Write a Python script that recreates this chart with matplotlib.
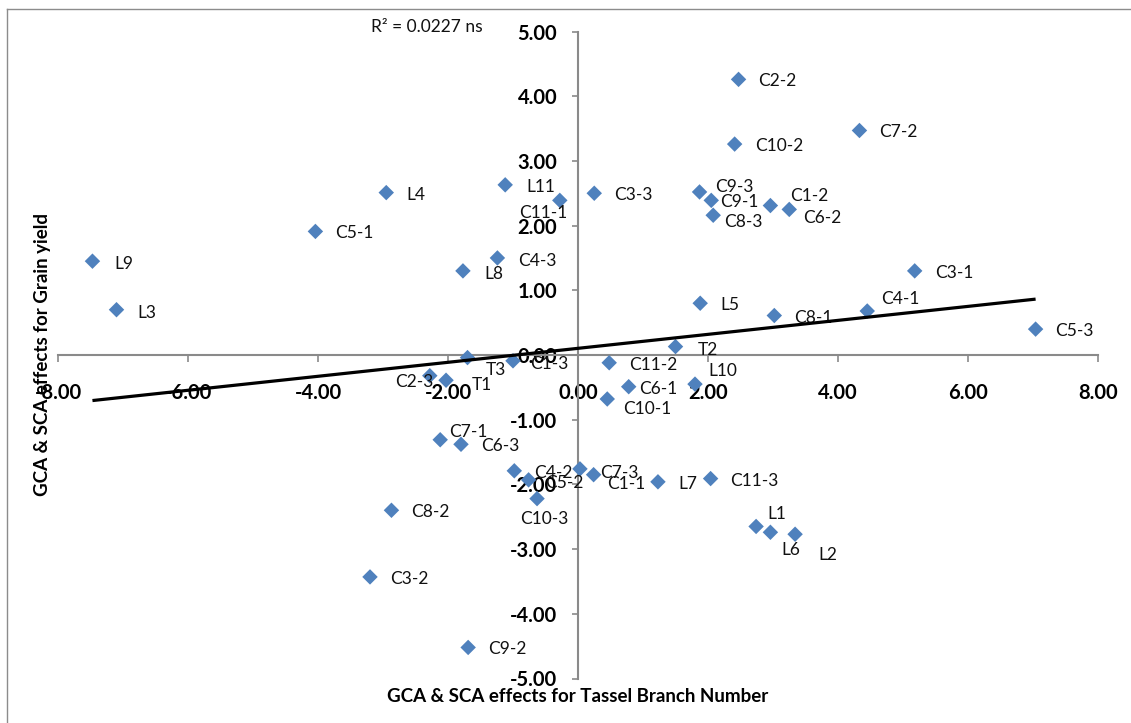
import numpy as np
import matplotlib
matplotlib.use("Agg")
import matplotlib.pyplot as plt
from matplotlib.lines import Line2D

plt.rcParams['font.family'] = ['Lato', 'DejaVu Sans']

# GCA (parents L, testers T) and SCA (crosses C) effects
genotypes = [
    "L1", "L2", "L3", "L4", "L5", "L6", "L7", "L8", "L9", "L10", "L11",
    "T1", "T2", "T3",
    "C1-1", "C1-2", "C1-3", "C2-2", "C2-3", "C3-1", "C3-2", "C3-3",
    "C4-1", "C4-2", "C4-3", "C5-1", "C5-2", "C5-3", "C6-1", "C6-2", "C6-3",
    "C7-1", "C7-2", "C7-3", "C8-1", "C8-2", "C8-3", "C9-1", "C9-2", "C9-3",
    "C10-1", "C10-2", "C10-3", "C11-1", "C11-2", "C11-3",
]
tassel_branch = [
    2.74, 3.34, -7.10, -2.95, 1.88, 2.96, 1.23, -1.77, -7.47, 1.80, -1.12,
    -2.03, 1.50, -1.70,
    0.24, 2.96, -1.00, 2.47, -2.28, 5.18, -3.20, 0.25,
    4.45, -0.98, -1.24, -4.04, -0.76, 7.04, 0.78, 3.25, -1.80,
    -2.12, 4.33, 0.03, 3.02, -2.87, 2.08, 2.05, -1.69, 1.87,
    0.45, 2.41, -0.63, -0.28, 0.48, 2.04,
]
grain_yield = [
    -2.65, -2.77, 0.70, 2.51, 0.80, -2.74, -1.96, 1.30, 1.45, -0.45, 2.63,
    -0.39, 0.13, -0.04,
    -1.85, 2.31, -0.09, 4.26, -0.32, 1.30, -3.43, 2.50,
    0.68, -1.79, 1.50, 1.91, -1.93, 0.40, -0.49, 2.25, -1.38,
    -1.31, 3.47, -1.76, 0.61, -2.40, 2.16, 2.39, -4.52, 2.52,
    -0.68, 3.26, -2.22, 2.39, -0.12, -1.91,
]
x_ticks = [-8, -6, -4, -2, 0, 2, 4, 6, 8]
y_ticks = [-5, -4, -3, -2, -1, 0, 1, 2, 3, 4, 5]

# label placement, pixel offsets (right, down) from each marker
default_offset = (20, 2)
label_offsets = {
    "L1": (11, -12), "L2": (23, 21), "L6": (11, 18), "L10": (13, -13),
    "L9": (22, 3), "L3": (21, 3), "L11": (21, 2), "L8": (21, 3),
    "T1": (26, 5), "T2": (22, 3), "T3": (18, 12),
    "C1-1": (14, 9), "C1-2": (20, -10), "C1-3": (17, 3), "C2-3": (-35, 6),
    "C4-1": (14, -12), "C4-3": (21, 3), "C5-2": (17, 3),
    "C6-1": (10, 2), "C6-2": (14, 9), "C7-1": (9, -8), "C7-3": (20, 4),
    "C8-3": (11, 7), "C9-1": (9, 2), "C9-3": (16, -5),
    "C10-1": (16, 10), "C10-3": (-17, 20), "C11-1": (-41, 13),
}

W, H, DPI = 1131, 723, 100
fig = plt.figure(figsize=(W / DPI, H / DPI), dpi=DPI)
fig.patch.set_facecolor("white")

ax_left, ax_right = 58, 1098
ax_top, ax_bottom = 31.5, 678.5
ax = fig.add_axes([ax_left / W, 1 - ax_bottom / H,
                   (ax_right - ax_left) / W, (ax_bottom - ax_top) / H])
ax.set_xlim(-8, 8)
ax.set_ylim(-5, 5)
ax.patch.set_alpha(0)

axis_grey = "#8a8a8a"
for side in ("top", "right"):
    ax.spines[side].set_visible(False)
for side in ("left", "bottom"):
    ax.spines[side].set_position(("data", 0))
    ax.spines[side].set_color(axis_grey)
    ax.spines[side].set_linewidth(1.5)

ax.set_xticks(x_ticks)
ax.set_yticks(y_ticks)
ax.set_xticklabels([f"{v:.2f}" for v in x_ticks])
ax.set_yticklabels([f"{v:.2f}" for v in y_ticks])
ax.tick_params(axis="x", direction="out", length=5, width=1.2, color=axis_grey,
               pad=15, labelsize=14.5)
ax.tick_params(axis="y", direction="out", length=4.5, width=1.2, color=axis_grey,
               pad=10.5, labelsize=14.5)
for lab in ax.get_xticklabels() + ax.get_yticklabels():
    lab.set_fontweight("bold")

xs = np.array(tassel_branch)
ys = np.array(grain_yield)
ax.scatter(xs, ys, marker="D", s=62, color="#4F81BD", edgecolors="none",
           zorder=3, clip_on=False)

for name, xv, yv in zip(genotypes, xs, ys):
    dx, dy = label_offsets.get(name, default_offset)
    ax.annotate(name, (xv, yv), xytext=(dx, -dy), textcoords="offset pixels",
                ha="left", va="center", fontsize=12.5, color="#111111",
                zorder=4, annotation_clip=False)

# linear trend line across the observed range
slope, intercept = np.polyfit(xs, ys, 1)
x_line = np.array([xs.min(), xs.max()])
ax.plot(x_line, slope * x_line + intercept, color="black", lw=2.3, zorder=5,
        solid_capstyle="butt")

fig.text(371 / W, 1 - 27 / H, "R² = 0.0227 ns", fontsize=12.5,
         ha="left", va="center", color="#111111")
fig.text(578 / W, 1 - 697 / H, "GCA & SCA effects for Tassel Branch Number",
         fontsize=13.5, fontweight="bold", ha="center", va="center")
fig.text(43 / W, 1 - 355 / H, "GCA & SCA effects for Grain yield",
         fontsize=13.5, fontweight="bold", ha="center", va="center",
         rotation=90)

# chart frame (left and top edges)
fig.add_artist(Line2D([7 / W, 7 / W], [0, 1 - 9 / H], transform=fig.transFigure,
                      color="#8c8c8c", lw=1.0))
fig.add_artist(Line2D([7 / W, 1], [1 - 9 / H, 1 - 9 / H], transform=fig.transFigure,
                      color="#8c8c8c", lw=1.0))

fig.savefig("out.png", dpi=DPI)
